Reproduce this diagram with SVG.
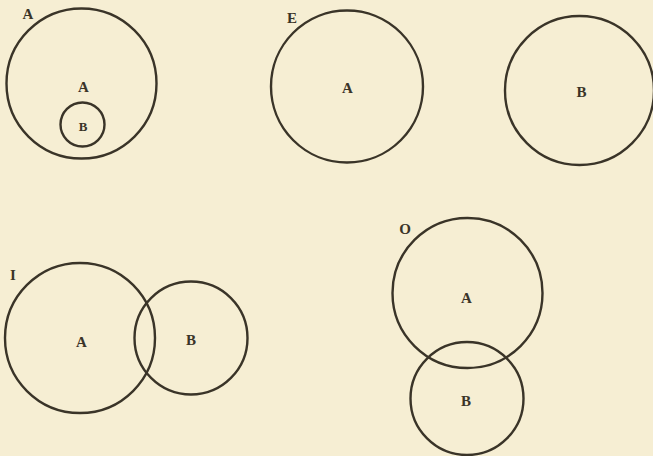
<svg xmlns="http://www.w3.org/2000/svg" width="653" height="456" viewBox="0 0 653 456">
<style>
.c{fill:none;stroke:#3a3428;stroke-width:2.4}
.t{font-family:"Liberation Serif",serif;font-weight:bold;font-size:15px;fill:#3a3428;text-anchor:middle}
.s{font-size:13px}
</style>
<rect width="653" height="456" fill="#f6eed3"/>
<g id="fig-A">
<circle class="c" cx="81.5" cy="83.5" r="75"/>
<text class="t" x="28" y="19">A</text>
<text class="t" x="83.5" y="92">A</text>
</g>
<g id="fig-A-B">
<circle class="c" cx="82.5" cy="124.5" r="22"/>
<text class="t s" x="83" y="131">B</text>
</g>
<g id="fig-E-A">
<circle class="c" cx="347" cy="86.5" r="76"/>
<text class="t" x="292" y="23">E</text>
<text class="t" x="347.5" y="93">A</text>
</g>
<g id="fig-E-B">
<circle class="c" cx="579.5" cy="90.5" r="74.5"/>
<text class="t" x="581.5" y="97">B</text>
</g>
<g id="fig-I-A">
<circle class="c" cx="80" cy="338" r="75"/>
<text class="t" x="13" y="280">I</text>
<text class="t" x="81.5" y="347">A</text>
</g>
<g id="fig-I-B">
<circle class="c" cx="191" cy="338" r="56.5"/>
<text class="t" x="191" y="345">B</text>
</g>
<g id="fig-O-A">
<circle class="c" cx="467.5" cy="293" r="75"/>
<text class="t" x="405" y="234">O</text>
<text class="t" x="466.5" y="303">A</text>
</g>
<g id="fig-O-B">
<circle class="c" cx="467" cy="398.5" r="56.5"/>
<text class="t" x="466" y="406">B</text>
</g>
<g id="connectors"/>
</svg>
